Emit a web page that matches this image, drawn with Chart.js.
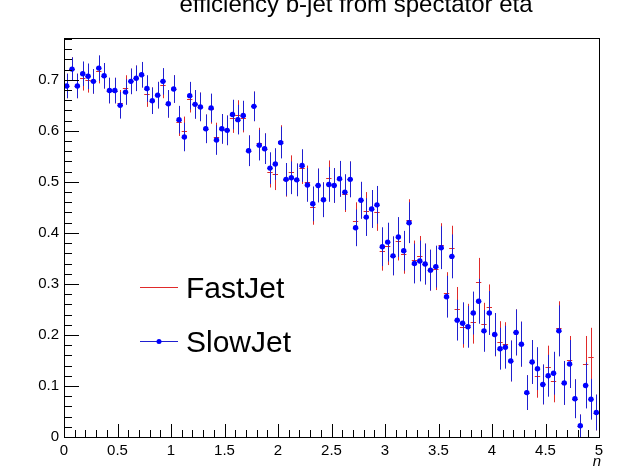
<!DOCTYPE html>
<html><head><meta charset="utf-8">
<script src="https://cdn.jsdelivr.net/npm/chart.js@4.4.1/dist/chart.umd.min.js"></script>
<style>html,body{margin:0;padding:0;background:#fff;}#wrap{width:631px;height:466px;}</style>
</head><body><div id="wrap"><canvas id="c" width="631" height="466"></canvas></div>
<script>
const chartTitle = 'efficiency b-jet from spectator eta';
const xAxisTitle = 'η';
const seriesNames = ['FastJet', 'SlowJet'];
const binHalfWidth = 0.025;
const etaBins = [
 0.025,0.075,0.125,0.175,0.225,0.275,0.325,0.375,0.425,0.475,
 0.525,0.575,0.625,0.675,0.725,0.775,0.825,0.875,0.925,0.975,
 1.025,1.075,1.125,1.175,1.225,1.275,1.325,1.375,1.425,1.475,
 1.525,1.575,1.625,1.675,1.725,1.775,1.825,1.875,1.925,1.975,
 2.025,2.075,2.125,2.175,2.225,2.275,2.325,2.375,2.425,2.475,
 2.525,2.575,2.625,2.675,2.725,2.775,2.825,2.875,2.925,2.975,
 3.025,3.075,3.125,3.175,3.225,3.275,3.325,3.375,3.425,3.475,
 3.525,3.575,3.625,3.675,3.725,3.775,3.825,3.875,3.925,3.975,
 4.025,4.075,4.125,4.175,4.225,4.275,4.325,4.375,4.425,4.475,
 4.525,4.575,4.625,4.675,4.725,4.775,4.825,4.875,4.925,4.975
];
const fastJet = [
 0.688,0.721,0.688,0.703,0.700,0.697,0.718,0.708,0.679,0.679,
 0.654,0.684,0.697,0.703,0.710,0.673,0.659,0.670,0.690,0.653,
 0.682,0.617,0.600,0.663,0.652,0.647,0.604,0.642,0.587,0.604,
 0.601,0.625,0.631,0.626,0.561,0.648,0.576,0.565,0.520,0.515,
 0.580,0.503,0.520,0.504,0.528,0.499,0.450,0.493,0.465,0.508,
 0.493,0.506,0.476,0.505,0.424,0.464,0.443,0.447,0.441,0.364,
 0.375,0.355,0.385,0.359,0.426,0.346,0.354,0.339,0.327,0.329,
 0.377,0.282,0.371,0.250,0.216,0.220,0.225,0.304,0.222,0.254,
 0.200,0.186,0.183,0.149,0.205,0.182,0.087,0.147,0.119,0.103,
 0.138,0.110,0.214,0.106,0.151,0.075,0.022,0.143,0.156,0.048
];
const fastJetErr = [
 0.024,0.023,0.024,0.024,0.025,0.024,0.025,0.025,0.025,0.025,
 0.026,0.025,0.025,0.025,0.025,0.026,0.026,0.026,0.026,0.027,
 0.027,0.027,0.028,0.027,0.028,0.028,0.028,0.028,0.029,0.029,
 0.029,0.029,0.029,0.029,0.030,0.029,0.030,0.030,0.031,0.031,
 0.031,0.032,0.032,0.032,0.032,0.033,0.034,0.033,0.034,0.034,
 0.034,0.035,0.035,0.035,0.036,0.036,0.037,0.037,0.037,0.038,
 0.038,0.038,0.039,0.039,0.040,0.039,0.040,0.040,0.040,0.041,
 0.042,0.041,0.043,0.044,0.041,0.041,0.042,0.047,0.041,0.045,
 0.042,0.041,0.042,0.040,0.045,0.044,0.034,0.043,0.042,0.039,
 0.041,0.042,0.052,0.043,0.047,0.038,0.022,0.055,0.058,0.035
];
const slowJet = [
 0.688,0.721,0.688,0.712,0.707,0.697,0.723,0.708,0.679,0.679,
 0.650,0.676,0.697,0.703,0.710,0.683,0.659,0.670,0.697,0.653,
 0.682,0.622,0.588,0.669,0.652,0.647,0.604,0.645,0.582,0.604,
 0.601,0.632,0.622,0.630,0.561,0.648,0.572,0.565,0.527,0.535,
 0.577,0.505,0.508,0.504,0.532,0.494,0.457,0.493,0.465,0.495,
 0.493,0.506,0.480,0.505,0.410,0.464,0.431,0.447,0.455,0.373,
 0.382,0.355,0.392,0.365,0.420,0.340,0.345,0.339,0.327,0.334,
 0.371,0.275,0.354,0.229,0.223,0.216,0.243,0.266,0.208,0.243,
 0.201,0.173,0.176,0.149,0.205,0.182,0.087,0.147,0.134,0.103,
 0.120,0.125,0.208,0.106,0.143,0.075,0.022,0.101,0.074,0.048
];
const slowJetErr = [
 0.024,0.023,0.024,0.024,0.025,0.024,0.025,0.025,0.025,0.025,
 0.026,0.025,0.025,0.025,0.025,0.026,0.026,0.026,0.026,0.027,
 0.027,0.027,0.028,0.027,0.028,0.028,0.028,0.028,0.029,0.029,
 0.029,0.029,0.029,0.029,0.030,0.029,0.030,0.030,0.031,0.031,
 0.031,0.032,0.032,0.032,0.032,0.033,0.034,0.033,0.034,0.034,
 0.034,0.035,0.035,0.035,0.036,0.036,0.037,0.037,0.037,0.038,
 0.038,0.038,0.039,0.039,0.040,0.039,0.040,0.040,0.040,0.041,
 0.042,0.041,0.043,0.040,0.041,0.041,0.042,0.044,0.041,0.043,
 0.042,0.041,0.042,0.040,0.045,0.044,0.034,0.043,0.042,0.039,
 0.041,0.042,0.050,0.043,0.047,0.038,0.022,0.045,0.040,0.035
];
const xTickLabels = ['0','0.5','1','1.5','2','2.5','3','3.5','4','4.5','5'];
const yTickLabels = ['0','0.1','0.2','0.3','0.4','0.5','0.6','0.7'];

const RED = '#e02a2a', BLUE = '#1f1fd0', FONT = '"Liberation Sans", Arial, Helvetica, sans-serif';

function pts(vals){ return vals.map((v,i)=>({x: etaBins[i], y: v})); }

function drawErrors(chart, vals, errs, color){
  const {ctx, scales:{x, y}} = chart;
  ctx.save();
  ctx.strokeStyle = color; ctx.lineWidth = 1;
  ctx.beginPath();
  vals.forEach((v,i)=>{
    const px = Math.round(x.getPixelForValue(etaBins[i])) + 0.5;
    const x0 = x.getPixelForValue(etaBins[i]-binHalfWidth);
    const x1 = x.getPixelForValue(etaBins[i]+binHalfWidth);
    const py = Math.round(y.getPixelForValue(v)) + 0.5;
    ctx.moveTo(x0, py); ctx.lineTo(x1, py);
    ctx.moveTo(px, y.getPixelForValue(Math.max(0, v-errs[i])));
    ctx.lineTo(px, y.getPixelForValue(v+errs[i]));
  });
  ctx.stroke();
  ctx.restore();
}

const rootPlugin = {
  id: 'rootStyle',
  beforeDatasetsDraw(chart){
    const a = chart.chartArea, ctx = chart.ctx;
    ctx.save();
    ctx.beginPath(); ctx.rect(a.left, a.top, a.right-a.left, a.bottom-a.top); ctx.clip();
    drawErrors(chart, fastJet, fastJetErr, RED);
    drawErrors(chart, slowJet, slowJetErr, BLUE);
    ctx.restore();
  },
  afterDraw(chart){
    const {ctx, chartArea:a, scales:{x, y}} = chart;
    ctx.save();
    ctx.strokeStyle = '#000'; ctx.lineWidth = 1;
    ctx.strokeRect(Math.round(a.left)+0.5, Math.round(a.top)+0.5, Math.round(a.right-a.left), Math.round(a.bottom-a.top));
    ctx.beginPath();
    for(let i=0;i<=50;i++){
      const px = Math.round(x.getPixelForValue(i/10)) + 0.5;
      const len = (i%5===0) ? 13 : 7;
      ctx.moveTo(px, a.bottom); ctx.lineTo(px, a.bottom-len);
    }
    for(let i=0;i<=39;i++){
      const v = i*0.02;
      if (v > y.max) break;
      const py = Math.round(y.getPixelForValue(v)) + 0.5;
      const len = (i%5===0) ? 15 : 8;
      ctx.moveTo(a.left, py); ctx.lineTo(a.left+len, py);
    }
    ctx.stroke();
    ctx.fillStyle = '#000';
    ctx.font = '24px ' + FONT;
    ctx.textAlign = 'center'; ctx.textBaseline = 'alphabetic';
    ctx.fillText(chartTitle, 356, 11.5);
    ctx.font = 'italic 15px ' + FONT;
    ctx.textAlign = 'right';
    ctx.fillText(xAxisTitle, 601, 466);
    const lx0 = 140, lx1 = 178, ly = [287, 341];
    ctx.lineWidth = 1;
    ctx.strokeStyle = RED;
    ctx.beginPath(); ctx.moveTo(lx0, ly[0]+0.5); ctx.lineTo(lx1, ly[0]+0.5); ctx.stroke();
    ctx.strokeStyle = BLUE;
    ctx.beginPath(); ctx.moveTo(lx0, ly[1]+0.5); ctx.lineTo(lx1, ly[1]+0.5); ctx.stroke();
    ctx.fillStyle = '#0000ff';
    ctx.beginPath(); ctx.arc((lx0+lx1)/2, ly[1]+0.5, 2.5, 0, Math.PI*2); ctx.fill();
    ctx.fillStyle = '#000';
    ctx.font = '30px ' + FONT;
    ctx.textAlign = 'left'; ctx.textBaseline = 'alphabetic';
    ctx.fillText(seriesNames[0], 186, ly[0]+11);
    ctx.fillText(seriesNames[1], 186, ly[1]+11);
    ctx.restore();
  }
};

new Chart(document.getElementById('c'), {
  type: 'scatter',
  data: {
    datasets: [
      { label: seriesNames[1], data: pts(slowJet), pointRadius: 2.7, pointHoverRadius: 2.7,
        backgroundColor: '#0000ff', borderWidth: 0, showLine: false },
      { label: seriesNames[0], data: pts(fastJet), pointRadius: 0, pointHoverRadius: 0,
        backgroundColor: RED, borderColor: RED, showLine: false }
    ]
  },
  options: {
    responsive: false,
    animation: false,
    devicePixelRatio: 1,
    layout: { padding: { left: 0, right: 32, top: 38, bottom: 0 } },
    plugins: { legend: { display: false }, title: { display: false }, tooltip: { enabled: false } },
    scales: {
      x: {
        type: 'linear', min: 0, max: 5,
        grid: { display: false, drawTicks: false, tickLength: 0 },
        border: { display: false },
        ticks: { stepSize: 0.5, includeBounds: false, autoSkip: false, maxRotation: 0, padding: 5,
          color: '#000', font: { family: FONT, size: 15 },
          callback: (v) => { const i = Math.round(v*2); return (Math.abs(v*2 - i) < 1e-6) ? xTickLabels[i] : ''; } },
        afterFit: (s) => { s.height = 29; }
      },
      y: {
        type: 'linear', min: 0, max: 0.782,
        grid: { display: false, drawTicks: false, tickLength: 0 },
        border: { display: false },
        ticks: { stepSize: 0.1, includeBounds: false, autoSkip: false, padding: 5,
          color: '#000', font: { family: FONT, size: 15 },
          callback: (v) => { const i = Math.round(v*10); return (Math.abs(v*10 - i) < 1e-6 && yTickLabels[i] !== undefined) ? yTickLabels[i] : ''; } },
        afterFit: (s) => { s.width = 64; }
      }
    }
  },
  plugins: [rootPlugin]
});
</script></body></html>
